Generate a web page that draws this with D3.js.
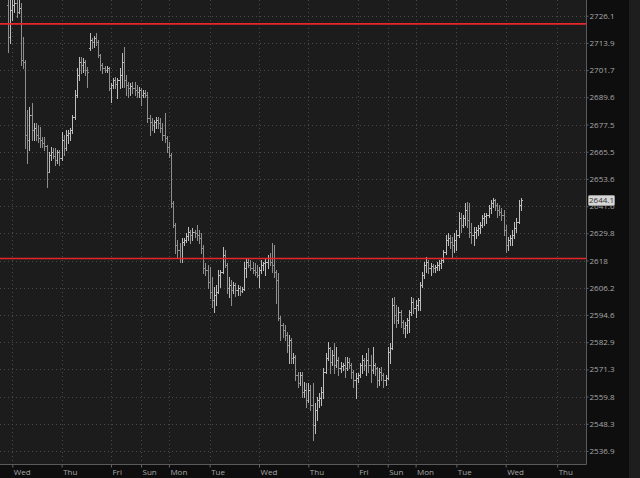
<!DOCTYPE html>
<html><head><meta charset="utf-8">
<script src="https://cdn.jsdelivr.net/npm/d3@7"></script>
<style>body{margin:0;background:#0e0e0e;overflow:hidden}</style>
</head><body><svg id="c" width="640" height="478"></svg>
<script>
// bar index of first bar (hourly bars, index 0 = first "Wed" tick)
const firstIndex = -2;
const opens = [
2730.9,2716.5,2728.6,2730.9,2731.9,2727.7,2729.6,2706.2,2705.3,2672.9,
2670.7,2681.7,2675.1,2676.0,2672.9,2671.6,2670.7,2669.4,2668.0,2656.6,
2664.1,2665.4,2663.6,2661.8,2665.4,2662.7,2670.7,2667.2,2672.9,2673.8,
2675.1,2680.8,2690.6,2699.5,2705.3,2704.0,2705.3,2701.8,2711.6,2715.2,
2714.3,2716.1,2714.3,2708.5,2704.0,2702.7,2701.8,2702.7,2693.7,2695.0,
2697.3,2695.5,2697.3,2699.5,2705.3,2697.3,2695.0,2693.7,2694.6,2693.7,
2692.8,2691.9,2692.8,2690.6,2691.5,2690.6,2680.4,2678.6,2677.3,2678.6,
2679.5,2678.2,2676.0,2672.9,2671.6,2667.6,2664.1,2643.0,2633.4,2624.7,
2622.6,2619.1,2626.0,2626.9,2628.6,2630.3,2629.0,2630.3,2629.9,2629.0,
2627.7,2623.5,2614.8,2613.9,2608.7,2604.4,2601.0,2603.1,2604.4,2611.7,
2613.0,2620.4,2616.1,2606.1,2607.4,2605.3,2607.4,2605.3,2606.1,2604.8,
2605.7,2614.8,2617.3,2616.1,2614.8,2613.9,2613.0,2611.7,2613.9,2616.1,
2616.9,2617.3,2619.1,2617.3,2616.1,2613.0,2609.6,2593.3,2590.2,2588.1,
2585.9,2581.7,2583.8,2576.2,2576.6,2568.9,2565.5,2568.9,2561.7,2562.6,
2558.3,2562.6,2556.2,2547.8,2554.1,2558.3,2559.2,2561.7,2570.2,2576.2,
2580.4,2574.4,2577.5,2573.2,2575.3,2571.9,2572.7,2573.2,2571.9,2574.4,
2573.2,2570.2,2566.8,2567.6,2568.9,2573.2,2575.3,2573.2,2575.3,2573.2,
2571.0,2573.2,2571.9,2566.8,2570.2,2568.9,2566.8,2567.6,2578.7,2580.4,
2598.8,2594.5,2592.4,2595.8,2591.5,2588.9,2590.2,2592.4,2595.8,2600.1,
2597.6,2598.8,2601.0,2607.4,2611.7,2616.1,2617.3,2614.8,2615.6,2614.8,
2615.2,2616.1,2616.9,2618.2,2621.7,2626.9,2627.7,2626.0,2624.7,2626.9,
2629.0,2636.4,2633.4,2636.4,2639.9,2635.6,2630.3,2629.0,2630.3,2631.2,
2632.1,2633.4,2636.4,2637.3,2637.8,2640.8,2643.0,2644.3,2642.1,2639.9,
2639.0,2637.8,2631.2,2624.7,2626.9,2627.7,2629.0,2632.1,2634.7,2642.1];
const highs = [
2735.4,2733.2,2735.4,2736.8,2734.5,2734.1,2731.9,2716.5,2706.2,2683.9,
2685.3,2687.1,2678.2,2678.2,2677.3,2676.4,2672.0,2672.0,2668.5,2665.4,
2667.6,2667.2,2667.2,2666.3,2666.3,2674.2,2672.9,2675.1,2675.1,2676.0,
2681.7,2692.8,2702.7,2707.6,2707.6,2707.1,2706.2,2703.1,2718.4,2716.1,
2717.0,2718.4,2715.2,2708.9,2704.9,2703.6,2703.6,2703.1,2695.9,2698.2,
2698.6,2698.2,2702.7,2709.4,2712.1,2699.5,2696.4,2695.9,2696.4,2696.4,
2695.0,2694.2,2693.7,2692.8,2692.8,2691.9,2681.7,2680.4,2679.5,2680.8,
2680.8,2680.4,2678.2,2682.6,2672.5,2669.8,2665.0,2643.9,2634.3,2626.9,
2625.6,2627.7,2627.7,2629.9,2632.5,2631.2,2632.1,2631.2,2633.4,2631.2,
2629.9,2624.7,2616.9,2616.1,2615.2,2610.9,2606.6,2607.4,2613.9,2613.9,
2623.9,2622.6,2616.9,2610.9,2609.6,2608.7,2608.3,2607.4,2607.0,2606.6,
2617.3,2619.1,2619.1,2618.2,2617.3,2616.9,2616.1,2615.2,2618.2,2617.3,
2619.1,2620.4,2621.3,2625.6,2624.7,2613.9,2612.6,2594.1,2591.1,2590.2,
2587.2,2585.9,2584.7,2578.3,2577.5,2570.2,2570.2,2570.2,2566.0,2565.5,
2565.5,2564.7,2565.5,2557.0,2559.6,2561.3,2563.9,2571.9,2578.3,2583.0,
2580.9,2579.6,2582.6,2580.9,2576.6,2574.4,2574.0,2576.6,2576.6,2576.2,
2574.0,2571.0,2569.8,2569.8,2574.0,2577.5,2576.2,2578.3,2580.4,2577.5,
2580.9,2574.0,2572.3,2571.9,2572.3,2569.8,2568.9,2580.9,2582.6,2601.8,
2602.3,2598.8,2598.0,2596.7,2592.4,2591.5,2593.3,2596.7,2602.3,2601.8,
2601.0,2601.8,2608.7,2613.0,2617.3,2619.5,2618.2,2616.9,2616.5,2616.1,
2617.3,2618.2,2619.1,2622.6,2629.0,2629.9,2629.0,2628.2,2629.9,2631.2,
2639.0,2638.6,2637.8,2643.0,2643.4,2643.0,2634.3,2632.5,2632.5,2633.4,
2634.7,2637.8,2638.6,2638.6,2642.1,2644.3,2645.2,2644.7,2643.0,2642.1,
2640.8,2639.9,2633.4,2628.2,2629.0,2631.2,2634.7,2636.4,2644.3,2645.2];
const lows = [
2709.8,2713.9,2724.2,2727.7,2725.5,2727.3,2704.0,2702.7,2667.2,2660.5,
2666.3,2670.7,2670.7,2670.7,2669.8,2667.6,2667.6,2666.3,2650.0,2656.6,
2661.8,2662.7,2659.7,2660.5,2659.7,2661.8,2664.1,2666.3,2669.4,2670.7,
2673.8,2679.9,2689.7,2697.3,2700.4,2700.9,2699.5,2694.2,2710.7,2711.6,
2712.1,2713.0,2707.6,2701.8,2700.4,2700.9,2700.9,2692.8,2687.5,2693.7,
2693.7,2689.3,2693.7,2694.2,2694.2,2690.6,2689.7,2690.6,2691.5,2690.6,
2689.7,2689.7,2686.2,2689.7,2689.7,2678.6,2672.9,2675.1,2674.2,2676.0,
2676.0,2674.2,2670.7,2669.8,2665.4,2663.2,2641.2,2632.5,2621.3,2619.5,
2617.3,2617.3,2624.7,2626.0,2626.9,2625.6,2626.9,2628.2,2626.9,2625.6,
2621.3,2612.6,2611.7,2606.1,2601.8,2598.0,2595.8,2598.8,2604.0,2606.6,
2612.6,2615.2,2604.0,2602.3,2598.8,2604.0,2602.7,2603.1,2603.1,2604.4,
2605.3,2610.9,2615.2,2613.9,2612.6,2611.7,2610.9,2606.6,2612.6,2613.9,
2611.7,2614.8,2616.1,2613.0,2610.9,2599.7,2592.4,2583.8,2585.1,2583.8,
2578.7,2574.0,2574.0,2574.0,2566.8,2563.9,2564.7,2559.6,2559.6,2555.4,
2557.5,2554.1,2541.5,2544.4,2549.9,2555.4,2556.2,2559.2,2569.8,2575.3,
2569.8,2573.2,2569.8,2572.3,2568.9,2570.2,2571.0,2568.1,2571.0,2571.9,
2567.6,2563.9,2559.2,2566.0,2568.1,2569.8,2571.0,2568.9,2570.2,2566.0,
2569.8,2568.9,2563.9,2564.7,2566.8,2563.9,2564.7,2567.2,2574.0,2580.0,
2591.1,2589.4,2591.1,2589.4,2586.8,2585.1,2586.8,2587.2,2594.5,2595.4,
2593.7,2596.7,2596.7,2606.6,2610.4,2613.0,2612.6,2611.7,2613.0,2613.0,
2613.9,2613.9,2614.8,2617.3,2620.9,2624.7,2623.5,2619.5,2621.7,2622.6,
2628.2,2630.3,2632.5,2633.4,2632.5,2628.2,2625.6,2624.7,2627.7,2629.0,
2629.9,2632.5,2633.4,2634.3,2636.9,2638.6,2641.2,2639.9,2636.9,2637.8,
2635.6,2629.0,2621.7,2622.6,2624.7,2624.7,2627.7,2630.3,2634.3,2639.9];
const closes = [
2716.5,2728.6,2730.9,2731.9,2727.7,2729.6,2706.2,2705.3,2672.9,2670.7,
2681.7,2675.1,2676.0,2672.9,2671.6,2670.7,2669.4,2668.0,2656.6,2664.1,
2665.4,2663.6,2661.8,2665.4,2662.7,2670.7,2667.2,2672.9,2673.8,2675.1,
2680.8,2690.6,2699.5,2705.3,2704.0,2705.3,2701.8,2700.9,2715.2,2714.3,
2716.1,2714.3,2708.5,2704.0,2702.7,2701.8,2702.7,2693.7,2695.0,2697.3,
2695.5,2697.3,2699.5,2705.3,2697.3,2695.0,2693.7,2694.6,2693.7,2692.8,
2691.9,2692.8,2690.6,2691.5,2690.6,2680.4,2678.6,2677.3,2678.6,2679.5,
2678.2,2676.0,2672.9,2671.6,2667.6,2664.1,2643.0,2633.4,2624.7,2622.6,
2619.1,2626.0,2626.9,2628.6,2630.3,2629.0,2630.3,2629.9,2629.0,2627.7,
2623.5,2614.8,2613.9,2608.7,2604.4,2601.0,2603.1,2604.4,2611.7,2613.0,
2620.4,2616.1,2606.1,2607.4,2605.3,2607.4,2605.3,2606.1,2604.8,2605.7,
2614.8,2617.3,2616.1,2614.8,2613.9,2613.0,2611.7,2613.9,2616.1,2616.9,
2617.3,2619.1,2617.3,2616.1,2613.0,2609.6,2593.3,2590.2,2588.1,2585.9,
2581.7,2583.8,2576.2,2576.6,2568.9,2565.5,2568.9,2561.7,2562.6,2558.3,
2562.6,2556.2,2547.8,2554.1,2558.3,2559.2,2561.7,2570.2,2576.2,2580.4,
2574.4,2577.5,2573.2,2575.3,2571.9,2572.7,2573.2,2571.9,2574.4,2573.2,
2570.2,2566.8,2567.6,2568.9,2573.2,2575.3,2573.2,2575.3,2573.2,2571.0,
2573.2,2571.9,2566.8,2570.2,2568.9,2566.8,2567.6,2578.7,2580.4,2598.8,
2594.5,2592.4,2595.8,2591.5,2588.9,2590.2,2592.4,2595.8,2600.1,2597.6,
2598.8,2601.0,2607.4,2611.7,2616.1,2617.3,2614.8,2615.6,2614.8,2615.2,
2616.1,2616.9,2618.2,2621.7,2626.9,2627.7,2626.0,2624.7,2626.9,2629.0,
2636.4,2633.4,2636.4,2639.9,2635.6,2630.3,2629.0,2630.3,2631.2,2632.1,
2633.4,2636.4,2637.3,2637.8,2640.8,2643.0,2644.3,2642.1,2639.9,2639.0,
2637.8,2631.2,2624.7,2626.9,2627.7,2629.0,2632.1,2634.7,2642.1,2644.1];

const dayTickIndex = [0,23,46,60,73,92,115,138,161,175,188,207,230,254];
const dayLabels = ["Wed","Thu","Fri","Sun","Mon","Tue","Wed","Thu","Fri","Sun","Mon","Tue","Wed","Thu"];
const priceTicks = [2726.1,2713.9,2701.7,2689.6,2677.5,2665.5,2653.6,2641.6,2629.8,2618,2606.2,2594.6,2582.9,2571.3,2559.8,2548.3,2536.9];
const priceTickLabels = ["2726.1","2713.9","2701.7","2689.6","2677.5","2665.5","2653.6","2641.6","2629.8","2618","2606.2","2594.6","2582.9","2571.3","2559.8","2548.3","2536.9"];
const levels = [2722.4, 2618.9];
const lastPrice = 2644.1;

const W = 640, H = 478, plotR = 586, plotB = 464;
const svg = d3.select("#c");
const x = d3.scaleLinear().domain([0, 230]).range([12.3, 505.7]);
const y = d3.scaleLog().domain([2536.9, 2726.1]).range([450.9, 15.7]);

svg.append("rect").attr("width", W).attr("height", H).attr("fill", "#0e0e0e");
svg.append("rect").attr("x", 629).attr("width", 11).attr("height", H).attr("fill", "#1e1e1e");
svg.append("rect").attr("width", plotR).attr("height", plotB).attr("fill", "#1c1c1c");

const defs = svg.append("defs");
defs.append("clipPath").attr("id", "clip").append("rect").attr("width", plotR).attr("height", plotB);

// grid
const grid = svg.append("g").attr("stroke", "#4a4a4a").attr("stroke-width", 1).attr("stroke-dasharray", "1,3");
grid.selectAll(".hg").data(priceTicks).join("line")
  .attr("x1", 0).attr("x2", plotR)
  .attr("y1", d => Math.round(y(d)) + 0.5).attr("y2", d => Math.round(y(d)) + 0.5);
grid.selectAll(".vg").data(dayTickIndex).join("line")
  .attr("y1", 0).attr("y2", plotB)
  .attr("x1", d => Math.round(x(d)) + 0.5).attr("x2", d => Math.round(x(d)) + 0.5);

// bars
const bars = d3.range(opens.length).map(k => ({
  i: k + firstIndex, o: opens[k], h: highs[k], l: lows[k], c: closes[k]
}));
const gb = svg.append("g").attr("clip-path", "url(#clip)").attr("stroke-width", 1);
const bx = d => Math.round(x(d.i)) + 0.5;
const by = v => Math.round(y(v)) + 0.5;
const col = d => d.c >= d.o ? "#bdbdbd" : "#8e8e8e";
gb.selectAll(".hl").data(bars).join("line")
  .attr("x1", bx).attr("x2", bx)
  .attr("y1", d => Math.round(y(d.h))).attr("y2", d => Math.round(y(d.l)) + 1)
  .attr("stroke", col);
gb.selectAll(".op").data(bars).join("line")
  .attr("x1", d => bx(d) - 1.5).attr("x2", d => bx(d))
  .attr("y1", d => by(d.o)).attr("y2", d => by(d.o))
  .attr("stroke", col);
gb.selectAll(".cl").data(bars).join("line")
  .attr("x1", d => bx(d)).attr("x2", d => bx(d) + 1.5)
  .attr("y1", d => by(d.c)).attr("y2", d => by(d.c))
  .attr("stroke", col);

// red levels
svg.append("g").selectAll("line").data(levels).join("line")
  .attr("x1", 0).attr("x2", plotR)
  .attr("y1", d => y(d)).attr("y2", d => y(d))
  .attr("stroke", "#e8262a").attr("stroke-width", 1.6);

// frame
svg.append("line").attr("x1", plotR + 0.5).attr("x2", plotR + 0.5).attr("y1", 0).attr("y2", plotB + 0.5).attr("stroke", "#5a5a5a");
svg.append("line").attr("x1", 0).attr("x2", plotR + 0.5).attr("y1", plotB + 0.5).attr("y2", plotB + 0.5).attr("stroke", "#5a5a5a");

// y axis
const yAxis = d3.axisRight(y).tickValues(priceTicks)
  .tickFormat((d, k) => priceTickLabels[k]).tickSize(2).tickPadding(1);
const ga = svg.append("g").attr("transform", `translate(${plotR + 0.5},0)`).call(yAxis);
ga.select(".domain").remove();
ga.selectAll(".tick line").attr("stroke", "#666");
ga.selectAll(".tick text").attr("fill", "#a8a8a8").style("font-family", "'Open Sans', 'Noto Sans', sans-serif").style("font-size", "8px");

// x axis
const xAxis = d3.axisBottom(x).tickValues(dayTickIndex)
  .tickFormat((d, k) => dayLabels[k]).tickSize(3).tickPadding(2);
const gx = svg.append("g").attr("transform", `translate(0,${plotB + 0.5})`).call(xAxis);
gx.select(".domain").remove();
gx.selectAll(".tick line").attr("stroke", "#666");
gx.selectAll(".tick text").attr("fill", "#a8a8a8").attr("text-anchor", "start").attr("x", 1)
  .style("font-family", "'Open Sans', 'Noto Sans', sans-serif").style("font-size", "8px");

// last price tag
const ly = y(lastPrice);
svg.append("rect").attr("x", 588.5).attr("y", ly - 5).attr("width", 26).attr("height", 10)
  .attr("fill", "#d6d6d6").attr("stroke", "#9a9a9a").attr("rx", 1);
svg.append("text").attr("x", 601.5).attr("y", ly + 3).attr("text-anchor", "middle")
  .attr("fill", "#333").style("font-family", "'Open Sans', 'Noto Sans', sans-serif").style("font-size", "8px")
  .text(lastPrice.toFixed(1));
</script></body></html>
